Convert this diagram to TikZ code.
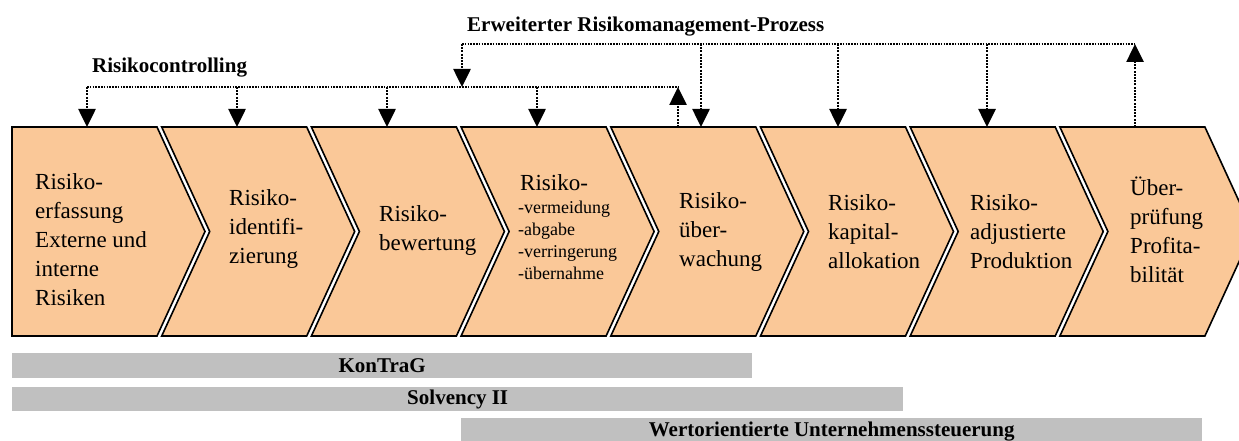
\documentclass[tikz,border=0pt]{standalone}
\usepackage{fontspec}
\setmainfont{Liberation Serif}
\usetikzlibrary{arrows.meta}
\definecolor{peach}{HTML}{FAC898}
\definecolor{bargray}{HTML}{C0C0C0}
\tikzset{
 chev/.style={fill=peach, draw=black, line width=1.6pt, line join=miter},
 hline/.style={line width=1.6pt, dash pattern=on 1.6pt off 1.2pt},
 stem/.style={line width=2.6pt, dash pattern=on 2pt off 1.2pt, -{Triangle[width=17pt,length=18pt]}},
 boxtxt/.style={font=\rmfamily\fontsize{23}{29}\selectfont, align=left, anchor=west, inner sep=0pt},
 smalltxt/.style={font=\rmfamily\fontsize{18}{22}\selectfont, align=left, anchor=west, inner sep=0pt},
 lbl/.style={font=\rmfamily\fontsize{21}{25}\selectfont\bfseries, anchor=base west, inner sep=0pt},
 bar/.style={fill=bargray, draw=none, anchor=north west, inner sep=0pt, font=\rmfamily\fontsize{21}{25}\selectfont\bfseries}
}
\begin{document}
\begin{tikzpicture}[x=1pt,y=-1pt]
\useasboundingbox (0,0) rectangle (1239,441);
\clip (0,0) rectangle (1239,441);
% chevrons
\foreach \i in {0,...,7} {
  \pgfmathsetmacro\L{12+149.7*\i}
  \pgfmathsetmacro\n{\i==0 ? 0 : 48}
  \path[chev] (\L,127) -- ++(145,0) -- ++(48,104.5) -- ++(-48,104.5) -- ++(-145,0) -- ++(\n,-104.5) -- cycle;
}
% texts in chevrons
\node[boxtxt] (c1) at (35,240) {Risiko-\\erfassung\\Externe und\\interne\\Risiken};
\node[boxtxt] (c2) at (229,229) {Risiko-\\identifi-\\zierung};
\node[boxtxt] (c3) at (379,231) {Risiko-\\bewertung};
\node[boxtxt] (c4a) at (520,183) {Risiko-};
\node[smalltxt] (c4b) at (518,240) {-vermeidung\\-abgabe\\-verringerung\\-übernahme};
\node[boxtxt] (c5) at (679,232) {Risiko-\\über-\\wachung};
\node[boxtxt] (c6) at (828,232) {Risiko-\\kapital-\\allokation};
\node[boxtxt] (c7) at (970,232) {Risiko-\\adjustierte\\Produktion};
\node[boxtxt] (c8) at (1130,230) {Über-\\prüfung\\Profita-\\bilität};
% labels
\node[lbl] (rc) at (92,73) {Risikocontrolling};
\node[lbl] (erm) at (467,32) {Erweiterter Risikomanagement-Prozess};
% coordinates
\coordinate (lo1) at (87,87);
\coordinate (lo2) at (237,87);
\coordinate (lo3) at (387,87);
\coordinate (lo4) at (537,87);
\coordinate (loS) at (462,87);
\coordinate (loE) at (678,87);
\coordinate (up0) at (462,44);
\coordinate (up1) at (701,44);
\coordinate (up2) at (838,44);
\coordinate (up3) at (987,44);
\coordinate (upE) at (1135,44);
\coordinate (t1) at (87,127);
\coordinate (t2) at (237,127);
\coordinate (t3) at (387,127);
\coordinate (t4) at (537,127);
\coordinate (t5a) at (678,127);
\coordinate (t5b) at (701,127);
\coordinate (t6) at (838,127);
\coordinate (t7) at (987,127);
\coordinate (t8) at (1135,127);
% connectors
\draw[hline] (lo1) -- (loE);
\draw[hline] (up0) -- (upE);
\draw[stem] (lo1) -- (t1);
\draw[stem] (lo2) -- (t2);
\draw[stem] (lo3) -- (t3);
\draw[stem] (lo4) -- (t4);
\draw[stem] (t5a) -- (loE);
\draw[stem] (up0) -- (loS);
\draw[stem] (up1) -- (t5b);
\draw[stem] (up2) -- (t6);
\draw[stem] (up3) -- (t7);
\draw[stem] (t8) -- (upE);
% bars
\node[bar, minimum width=740pt, minimum height=25pt] (kon) at (12,353) {KonTraG};
\node[bar, minimum width=891pt, minimum height=24pt] (sol) at (12,387) {Solvency II};
\node[bar, minimum width=741pt, minimum height=27pt] (wert) at (461,418) {Wertorientierte Unternehmenssteuerung};
\end{tikzpicture}
\end{document}
